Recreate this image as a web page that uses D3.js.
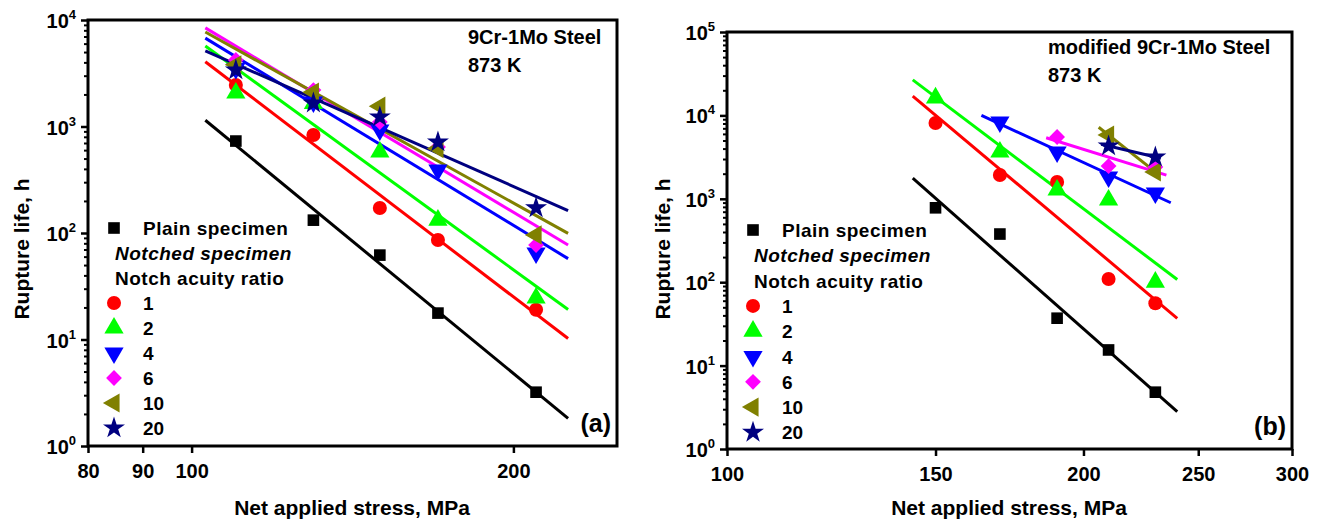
<!DOCTYPE html>
<html><head><meta charset="utf-8">
<script src="https://cdn.jsdelivr.net/npm/d3@7"></script>
<style>
body{margin:0;background:#fff;}
svg{font-family:"Liberation Sans",Arial,sans-serif;font-weight:bold;}
</style></head><body>
<svg id="c" width="1324" height="524"></svg>
<script>
// ---------- Data: panel (a) 9Cr-1Mo steel ----------
const stressA = [110, 130, 150, 170, 210];
const plainA  = [730, 132, 62, 17.7, 3.2];
const r1A     = [2455, 832, 172, 86, 19];
const r2A     = [2064, 1650, 576, 132, 24.5];
const r4A     = [3500, 1700, 927, 391, 65];
const r6A     = [4210, 2200, 1100, 642, 77];
const r10A    = [3800, 2100, 1550, 620, 96];
const r20A    = [3395, 1660, 1228, 715, 172];
const fitRangeA = [103, 225];

// ---------- Data: panel (b) modified 9Cr-1Mo steel ----------
const stressB   = [150, 170, 190, 210, 230];
const plainB    = [780, 378, 37, 15.4, 4.8];
const r1B       = [8100, 1930, 1590, 109, 56];
const r2B       = [16200, 3640, 1275, 968, 100];
const stressB4  = [170, 190, 210, 230];
const r4B       = [8330, 3640, 1825, 1175];
const stressB6  = [190, 210, 230];
const r6B       = [5510, 2470, 2400];
const stressB10 = [210, 230];
const r10B      = [5820, 2100];
const stressB20 = [210, 230];
const r20B      = [4300, 3170];
const fitRangeB = {plain:[143.5,240], r1:[143.5,240], r2:[143.5,240], r4:[164,237], r6:[186,235], r10:[206,232], r20:[207,232.5]};

// ---------- Tick labels ----------
const xTicksA = [80, 90, 100, 200];
const xTicksB = [100, 150, 200, 250, 300];
const yExpA = [0, 1, 2, 3, 4];
const yExpB = [0, 1, 2, 3, 4, 5];
const legendLabels = ["1", "2", "4", "6", "10", "20"];

const colors = {plain:"#000000", r1:"#ff0000", r2:"#00ff00", r4:"#0000ff", r6:"#ff00ff", r10:"#808000", r20:"#000080"};
const shapes = {
  plain:{type:d3.symbolSquare, size:135, rot:0},
  r1:{type:d3.symbolCircle, size:155, rot:0},
  r2:{type:d3.symbolTriangle, size:160, rot:0},
  r4:{type:d3.symbolTriangle, size:160, rot:180},
  r6:{type:d3.symbolSquare, size:125, rot:45},
  r10:{type:d3.symbolTriangle, size:160, rot:-90},
  r20:{type:d3.symbolStar, size:150, rot:0}
};

const svg = d3.select("#c");

function fit(xs, ys){
  const lx = xs.map(Math.log10), ly = ys.map(Math.log10);
  const mx = d3.mean(lx), my = d3.mean(ly);
  let sxy=0, sxx=0;
  lx.forEach((v,i)=>{ sxy += (v-mx)*(ly[i]-my); sxx += (v-mx)*(v-mx); });
  const b = sxy/sxx;
  return s => Math.pow(10, my + b*(Math.log10(s)-mx));
}

function drawPanel(p){
  const g = svg.append("g");
  const x = d3.scaleLog().domain(p.xDomain).range([p.left, p.right]);
  const y = d3.scaleLog().domain(p.yDomain).range([p.bottom, p.top]);

  // fitted lines
  p.series.forEach(s=>{
    const f = fit(s.x, s.y);
    const pts = s.range.map(v=>[v, f(v)]);
    g.append("path")
      .attr("d", d3.line().x(d=>x(d[0])).y(d=>y(d[1]))(pts))
      .attr("stroke", colors[s.key]).attr("stroke-width", 3).attr("fill","none");
  });
  // markers
  p.series.forEach(s=>{
    const sh = shapes[s.key];
    g.selectAll(null).data(s.x.map((v,i)=>[v, s.y[i]])).enter().append("path")
      .attr("d", d3.symbol().type(sh.type).size(sh.size)())
      .attr("transform", d=>`translate(${x(d[0])},${y(d[1])}) rotate(${sh.rot})`)
      .attr("fill", colors[s.key]);
  });

  // x axis
  const xa = g.append("g").attr("transform", `translate(0,${p.bottom})`)
    .call(d3.axisBottom(x).tickValues(p.xTicks).tickSize(7).tickFormat(d3.format("d")));
  xa.select(".domain").remove();
  xa.selectAll(".tick line").attr("stroke-width", 2.5);
  xa.selectAll(".tick text").attr("font-size", 20).attr("font-family","Liberation Sans, Arial, sans-serif")
    .attr("font-weight","bold").attr("y", 18).attr("dy","0.71em").attr("fill","#000");

  // y axis major + minor
  const majors = p.yExp.map(e=>Math.pow(10,e));
  const minors = [];
  p.yExp.slice(0,-1).forEach(e=>{ for(let k=2;k<=9;k++) minors.push(k*Math.pow(10,e)); });
  const ya = g.append("g").attr("transform", `translate(${p.left},0)`)
    .call(d3.axisLeft(y).tickValues(majors).tickSize(7).tickFormat(""));
  ya.select(".domain").remove();
  ya.selectAll(".tick line").attr("stroke-width", 2.5);
  const ym = g.append("g").attr("transform", `translate(${p.left},0)`)
    .call(d3.axisLeft(y).tickValues(minors).tickSize(4).tickFormat(""));
  ym.select(".domain").remove();
  ym.selectAll(".tick line").attr("stroke-width", 2);

  p.yExp.forEach(e=>{
    const t = g.append("text").attr("x", p.left-12).attr("y", y(Math.pow(10,e))+8)
      .attr("text-anchor","end").attr("font-size",20);
    t.append("tspan").text("10");
    t.append("tspan").text(e).attr("font-size",13).attr("dy",-9);
  });

  // frame
  g.append("rect").attr("x",p.left).attr("y",p.top).attr("width",p.right-p.left).attr("height",p.bottom-p.top)
    .attr("fill","none").attr("stroke","#000").attr("stroke-width",3);

  // axis titles
  g.append("text").attr("x", p.xTitleX).attr("y", 515).attr("text-anchor","middle").attr("font-size",21)
    .text("Net applied stress, MPa");
  g.append("text").attr("transform", `translate(${p.yTitleX},249) rotate(-90)`).attr("text-anchor","middle")
    .attr("font-size",21).text("Rupture life, h");

  // annotations
  p.notes.forEach((n,i)=>{
    g.append("text").attr("x", p.noteX).attr("y", p.noteY + i*28).attr("font-size",20).text(n);
  });
  g.append("text").attr("x", p.right-6).attr("y", p.bottom-14).attr("text-anchor","end").attr("font-size",25).text(p.tag);

  // legend
  const lx = p.left+26, tx = p.left+55;
  let ly = p.legendY;
  const step = p.legendStep;
  const sym = (key, yy)=>{
    const sh = shapes[key];
    g.append("path").attr("d", d3.symbol().type(sh.type).size(sh.size)())
      .attr("transform", `translate(${lx},${yy}) rotate(${sh.rot})`).attr("fill", colors[key]);
  };
  sym("plain", ly);
  g.append("text").attr("x", tx).attr("y", ly+7).attr("font-size",19).attr("letter-spacing",0.5).text("Plain specimen");
  ly += step;
  g.append("text").attr("x", p.left+27).attr("y", ly+7).attr("font-size",19).attr("font-style","italic").attr("letter-spacing",0.5).text("Notched specimen");
  ly += step;
  g.append("text").attr("x", p.left+27).attr("y", ly+7).attr("font-size",19).attr("letter-spacing",0.5).text("Notch acuity ratio");
  ["r1","r2","r4","r6","r10","r20"].forEach((k,i)=>{
    ly += step;
    sym(k, ly);
    g.append("text").attr("x", tx).attr("y", ly+7).attr("font-size",19).text(legendLabels[i]);
  });
}

drawPanel({
  left:88, right:617, top:20, bottom:446,
  xDomain:[80,250], yDomain:[1,1e4], xTicks:xTicksA, yExp:yExpA,
  series:[
    {key:"plain", x:stressA, y:plainA, range:fitRangeA},
    {key:"r1", x:stressA, y:r1A, range:fitRangeA},
    {key:"r2", x:stressA, y:r2A, range:fitRangeA},
    {key:"r4", x:stressA, y:r4A, range:fitRangeA},
    {key:"r6", x:stressA, y:r6A, range:fitRangeA},
    {key:"r10", x:stressA, y:r10A, range:fitRangeA},
    {key:"r20", x:stressA, y:r20A, range:fitRangeA}
  ],
  xTitleX:352, yTitleX:29,
  notes:["9Cr-1Mo Steel","873 K"], noteX:468, noteY:44, tag:"(a)",
  legendY:228, legendStep:25
});

drawPanel({
  left:727, right:1292, top:32, bottom:449,
  xDomain:[100,300], yDomain:[1,1e5], xTicks:xTicksB, yExp:yExpB,
  series:[
    {key:"plain", x:stressB, y:plainB, range:fitRangeB.plain},
    {key:"r1", x:stressB, y:r1B, range:fitRangeB.r1},
    {key:"r2", x:stressB, y:r2B, range:fitRangeB.r2},
    {key:"r4", x:stressB4, y:r4B, range:fitRangeB.r4},
    {key:"r6", x:stressB6, y:r6B, range:fitRangeB.r6},
    {key:"r10", x:stressB10, y:r10B, range:fitRangeB.r10},
    {key:"r20", x:stressB20, y:r20B, range:fitRangeB.r20}
  ],
  xTitleX:1009, yTitleX:670,
  notes:["modified 9Cr-1Mo Steel","873 K"], noteX:1048, noteY:54, tag:"(b)",
  legendY:230, legendStep:25.3
});
</script>
</body></html>
